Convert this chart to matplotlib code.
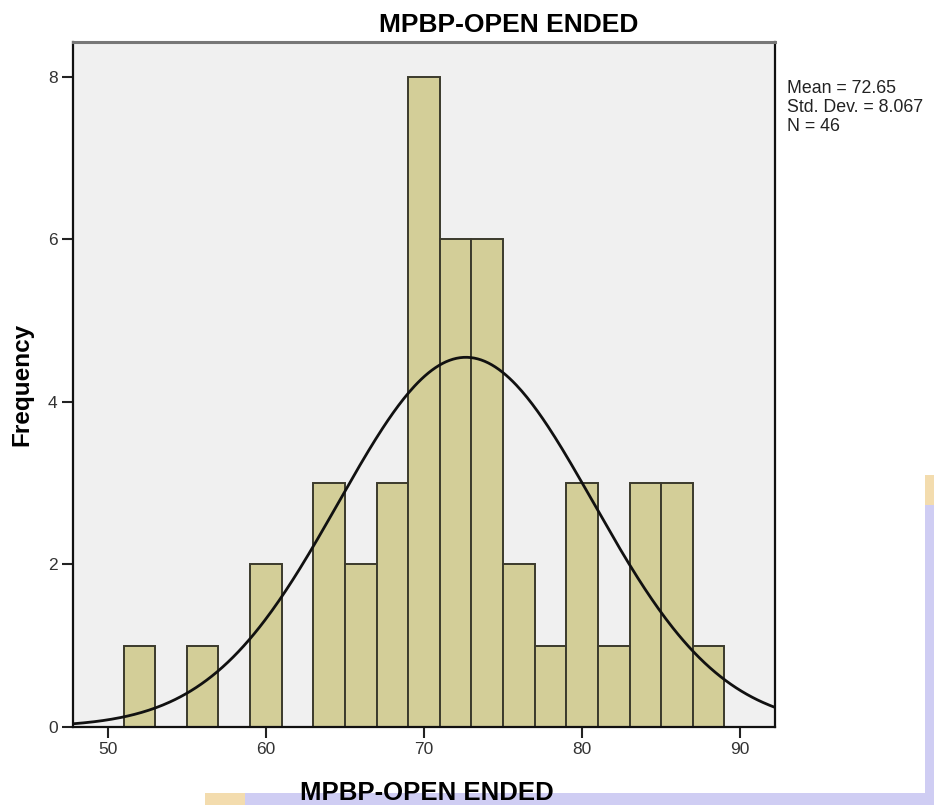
import numpy as np
import matplotlib
matplotlib.use("Agg")
import matplotlib.pyplot as plt
from matplotlib.patches import Rectangle

plt.rcParams['font.family'] = ['Liberation Sans', 'DejaVu Sans']

# histogram of scores, bin width 2
bin_left = [51, 55, 59, 63, 65, 67, 69, 71, 73, 75, 77, 79, 81, 83, 85, 87]
counts = [1, 1, 2, 3, 2, 3, 8, 6, 6, 2, 1, 3, 1, 3, 3, 1]
bin_width = 2

mean_val = 72.65
sd_val = 8.067
n_val = 46

x_ticks = [50, 60, 70, 80, 90]
y_ticks = [0, 2, 4, 6, 8]

W, H = 934, 805
fig = plt.figure(figsize=(W / 100, H / 100), dpi=100)
fig.patch.set_facecolor('white')

# faint page decoration along the bottom and right edges
fig.add_artist(Rectangle((205 / W, 0), 40 / W, 12 / H, transform=fig.transFigure,
                         color='#f3dcae', lw=0, zorder=0))
fig.add_artist(Rectangle((245 / W, 0), (W - 245) / W, 12 / H, transform=fig.transFigure,
                         color='#cfcdf3', lw=0, zorder=0))
fig.add_artist(Rectangle((925 / W, 0), 9 / W, 300 / H, transform=fig.transFigure,
                         color='#cfcdf3', lw=0, zorder=0))
fig.add_artist(Rectangle((925 / W, 300 / H), 9 / W, 30 / H, transform=fig.transFigure,
                         color='#f3dcae', lw=0, zorder=0))

ax = fig.add_axes([73 / W, 1 - 727 / H, 702 / W, 685 / H])
ax.set_facecolor('#f0f0f0')

ax.bar(bin_left, counts, width=bin_width, align='edge', color='#d3ce98',
       edgecolor='#3b3a2c', linewidth=1.4, zorder=2)

# fitted normal curve scaled to counts
xs = np.linspace(47.8, 92.2, 400)
ys = n_val * bin_width / (sd_val * np.sqrt(2 * np.pi)) * np.exp(-0.5 * ((xs - mean_val) / sd_val) ** 2)
ax.plot(xs, ys, color='#111111', lw=2.0, zorder=3)

ax.set_xlim(47.8, 92.2)
ax.set_ylim(0, 8.43)
ax.set_xticks(x_ticks)
ax.set_yticks(y_ticks)
ax.tick_params(length=8, width=1.5, color='#222222', labelsize=12.5,
               labelcolor='#333333', pad=3)
for s in ax.spines.values():
    s.set_color('#111111')
    s.set_linewidth(1.6)
ax.spines['top'].set_color('#777777')
ax.spines['top'].set_linewidth(2.2)

fig.text(509 / W, 1 - 32 / H, 'MPBP-OPEN ENDED', ha='center', va='baseline',
         fontsize=19, fontweight='bold')
fig.text(427 / W, 1 - 800 / H, 'MPBP-OPEN ENDED', ha='center', va='baseline',
         fontsize=18.5, fontweight='bold')
fig.text(22 / W, 1 - 384 / H, 'Frequency', ha='center', va='center', rotation=90,
         fontsize=17.5, fontweight='bold')

fig.text(787 / W, 1 - 80 / H,
         'Mean = %.2f\nStd. Dev. = %.3f\nN = %d' % (mean_val, sd_val, n_val),
         ha='left', va='top', fontsize=12.8, linespacing=1.15, color='#222222')

fig.savefig('out.png', dpi=100)
